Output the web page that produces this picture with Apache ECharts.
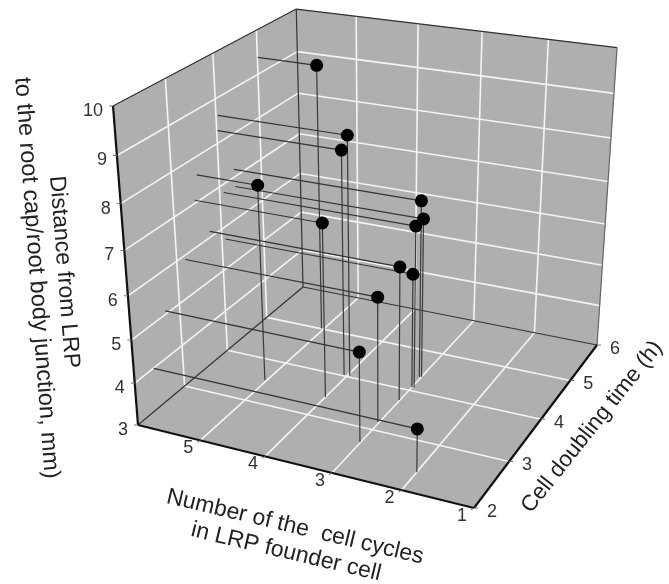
<!DOCTYPE html>
<html>
<head>
<meta charset="utf-8">
<style>html,body{margin:0;padding:0;background:#fff}#c{width:669px;height:584px}</style>
<script src="https://cdn.jsdelivr.net/npm/echarts@6/dist/echarts.min.js"></script>
</head>
<body>
<div id="c"></div>
<script>
// Data
const cycleValues    = [5.04, 3.97, 4.05, 5.03, 4.00, 3.01, 3.02, 3.01, 3.00, 2.97, 3.03, 3.00, 2.00];
const doublingValues = [5.01, 4.04, 4.02, 3.52, 3.45, 2.70, 3.18, 3.74, 4.08, 4.09, 4.35, 4.36, 2.39];
const distanceValues = [9.38, 8.61, 8.28, 7.60, 7.07, 5.08, 5.90, 6.14, 5.71, 6.81, 7.18, 6.77, 3.99];

const cycleTicks    = [6, 5, 4, 3, 2, 1];
const doublingTicks = [2, 3, 4, 5, 6];
const distanceTicks = [3, 4, 5, 6, 7, 8, 9, 10];

// Perspective camera of the 3D box
const cam = {
  x: [293.67, 219.6, -35.5, 138],
  y: [37.64, -86.28, -328.9, 425],
  w: [-0.0893, 0.1802, -0.093, 1]
};
const uMax = 6, uMin = 1, vMin = 2, vMax = 6, zMin = 3, zMax = 10;
function project(u, v, z) {
  const X = (uMax - u) / (uMax - uMin), Y = (v - vMin) / (vMax - vMin), Z = (z - zMin) / (zMax - zMin);
  const f = c => c[0] * X + c[1] * Y + c[2] * Z + c[3];
  const w = f(cam.w);
  return [f(cam.x) / w, f(cam.y) / w];
}
function seg(a, b) { return project(...a).concat(project(...b)); }

function polySeries(name, quads, color) {
  return {
    type: 'custom', name, coordinateSystem: 'cartesian2d', silent: true, clip: false, z: 1,
    data: quads.map((q, i) => [i]),
    renderItem(params, api) {
      const pts = quads[params.dataIndex].map(p => api.coord(project(...p)));
      return { type: 'polygon', shape: { points: pts }, style: { fill: color, stroke: color, lineWidth: 0.5 } };
    }
  };
}
function segSeries(name, segs, color, width, z) {
  return {
    type: 'custom', name, coordinateSystem: 'cartesian2d', silent: true, clip: false, z,
    encode: { x: [0, 2], y: [1, 3] },
    data: segs,
    renderItem(params, api) {
      const a = api.coord([api.value(0), api.value(1)]);
      const b = api.coord([api.value(2), api.value(3)]);
      return { type: 'line', shape: { x1: a[0], y1: a[1], x2: b[0], y2: b[1] },
               style: { stroke: color, lineWidth: width, fill: null } };
    }
  };
}
function labelSeries(name, items, dx, dy, align) {
  return {
    type: 'custom', name, coordinateSystem: 'cartesian2d', silent: true, clip: false, z: 8,
    data: items.map(it => it.pos),
    renderItem(params, api) {
      const a = api.coord([api.value(0), api.value(1)]);
      return { type: 'text', x: a[0] + dx, y: a[1] + dy,
        style: { text: String(items[params.dataIndex].text), fill: '#333',
                 font: '18px "Liberation Sans", Arial, sans-serif',
                 align, verticalAlign: 'middle' } };
    }
  };
}

const wallColor = '#afafaf', gridColor = '#f4f4f4', edge = '#2a2a2a';

const walls = [
  [[uMax, vMin, zMin], [uMin, vMin, zMin], [uMin, vMax, zMin], [uMax, vMax, zMin]],
  [[uMax, vMin, zMin], [uMax, vMax, zMin], [uMax, vMax, zMax], [uMax, vMin, zMax]],
  [[uMax, vMax, zMin], [uMin, vMax, zMin], [uMin, vMax, zMax], [uMax, vMax, zMax]]
];

const inner = a => a.slice(1, -1);
const gridSegs = [];
inner(cycleTicks).forEach(u => {
  gridSegs.push(seg([u, vMin, zMin], [u, vMax, zMin]));
  gridSegs.push(seg([u, vMax, zMin], [u, vMax, zMax]));
});
inner(doublingTicks).forEach(v => {
  gridSegs.push(seg([uMin, v, zMin], [uMax, v, zMin]));
  gridSegs.push(seg([uMax, v, zMin], [uMax, v, zMax]));
});
inner(distanceTicks).forEach(z => {
  gridSegs.push(seg([uMax, vMin, z], [uMax, vMax, z]));
  gridSegs.push(seg([uMax, vMax, z], [uMin, vMax, z]));
});

const thinEdges = [
  seg([uMax, vMin, zMax], [uMax, vMax, zMax]),
  seg([uMax, vMax, zMax], [uMin, vMax, zMax]),
  seg([uMax, vMax, zMin], [uMax, vMax, zMax]),
  seg([uMax, vMax, zMin], [uMin, vMax, zMin]),
  seg([uMax, vMin, zMin], [uMax, vMax, zMin])
];
const rightEdge = [seg([uMin, vMax, zMin], [uMin, vMax, zMax])];
const heavyEdges = [
  seg([uMax, vMin, zMin], [uMax, vMin, zMax]),
  seg([uMax, vMin, zMin], [uMin, vMin, zMin]),
  seg([uMin, vMin, zMin], [uMin, vMax, zMin])
];

const pointIdx = cycleValues.map((_, i) => i);
const stems = pointIdx.map(i => seg([cycleValues[i], doublingValues[i], distanceValues[i]], [cycleValues[i], doublingValues[i], zMin]));
const leaders = pointIdx.map(i => seg([cycleValues[i], doublingValues[i], distanceValues[i]], [uMax, doublingValues[i], distanceValues[i]]));
const dots = pointIdx.map(i => project(cycleValues[i], doublingValues[i], distanceValues[i]));

const tickMarks = [];
distanceTicks.forEach(z => { const p = project(uMax, vMin, z); tickMarks.push([p[0] - 4, p[1], p[0], p[1]]); });
inner(cycleTicks).concat([uMin]).forEach(u => { const p = project(u, vMin, zMin); tickMarks.push([p[0] - 3, p[1] + 2, p[0], p[1]]); });
doublingTicks.forEach(v => { const p = project(uMin, v, zMin); tickMarks.push([p[0], p[1], p[0] + 4, p[1]]); });

const option = {
  backgroundColor: '#fff',
  animation: false,
  grid: { left: 0, right: 0, top: 0, bottom: 0 },
  xAxis: { type: 'value', min: 0, max: 669, show: false },
  yAxis: { type: 'value', min: 0, max: 584, inverse: true, show: false },
  series: [
    polySeries('walls', walls, wallColor),
    segSeries('grid', gridSegs, gridColor, 1.6, 2),
    segSeries('edges', thinEdges, '#333', 1.2, 3),
    segSeries('right edge', rightEdge, '#666', 1.2, 3),
    segSeries('stems', stems, '#3a3a3a', 1.2, 4),
    segSeries('leaders', leaders, '#333', 1.2, 4),
    segSeries('heavy edges', heavyEdges, '#111', 2.2, 5),
    segSeries('ticks', tickMarks, '#777', 1, 5),
    { type: 'scatter', name: 'points', data: dots, symbol: 'circle', symbolSize: 13, silent: true,
      itemStyle: { color: '#000', opacity: 1 }, z: 6 },
    labelSeries('distance ticks', distanceTicks.map(z => ({ text: z, pos: project(uMax, vMin, z) })), -10, 5, 'right'),
    labelSeries('cycle ticks', inner(cycleTicks).concat([uMin]).map(u => ({ text: u, pos: project(u, vMin, zMin) })), -12, 8, 'center'),
    labelSeries('doubling ticks', doublingTicks.map(v => ({ text: v, pos: project(uMin, v, zMin) })), 18, 4, 'center')
  ],
  graphic: [
    ['Distance from LRP', 64, 272, -85.5, 23],
    ['to the root cap/root body junction, mm)', 36.5, 278, -85.8, 23.5],
    ['Number of the  cell cycles', 295, 527, -13.4, 23],
    ['in LRP founder cell', 286, 552, -13.3, 23],
    ['Cell doubling time (h)', 592, 427, 51.5, 22.5]
  ].map(([text, x, y, deg, size]) => ({
    type: 'text', x, y, rotation: deg * Math.PI / 180, silent: true, z: 10,
    style: { text, fill: '#222', font: size + 'px "Liberation Sans", Arial, sans-serif', align: 'center', verticalAlign: 'middle' }
  }))
};
const chart = echarts.init(document.getElementById('c'), null, { renderer: 'canvas' });
chart.setOption(option);
</script>
</body>
</html>
